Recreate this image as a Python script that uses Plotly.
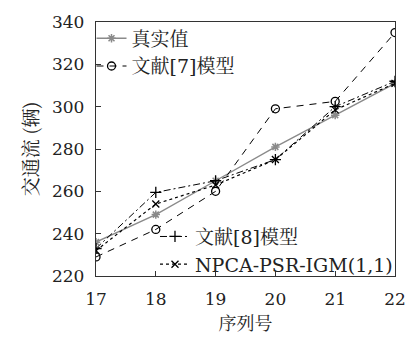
import plotly.graph_objects as go

seq = [17, 18, 19, 20, 21, 22]
actual = [236, 249, 265, 281, 296, 311]
ref7 = [229, 242, 260, 299, 302.5, 335]
ref8 = [233, 259.5, 265, 275, 300, 312]
npca = [232, 254, 263, 275, 298.5, 311]

y_ticks = [220, 240, 260, 280, 300, 320, 340]

serif = "DejaVu Serif"
cjk = "Noto Serif CJK SC, Noto Sans CJK SC"

fig = go.Figure()

fig.add_trace(go.Scatter(
    x=seq, y=actual, name="真实值", mode="lines+markers",
    line=dict(color="#8a8a8a", width=1.4),
    marker=dict(symbol="asterisk-open", size=7, color="#8a8a8a", line=dict(width=1.5, color="#8a8a8a")),
    legend="legend",
))
fig.add_trace(go.Scatter(
    x=seq, y=ref7, name="文献[7]模型", mode="lines+markers",
    line=dict(color="black", width=1, dash="7px,6px"),
    marker=dict(symbol="circle-open", size=8, color="black", line=dict(width=1.3, color="black")),
    legend="legend",
))
fig.add_trace(go.Scatter(
    x=seq, y=ref8, name="文献[8]模型", mode="lines+markers",
    line=dict(color="black", width=1, dash="7px,3px,2px,3px"),
    marker=dict(symbol="cross-thin-open", size=8, color="black", line=dict(width=1.3, color="black")),
    legend="legend2",
))
fig.add_trace(go.Scatter(
    x=seq, y=npca, name="NPCA-PSR-IGM(1,1)", mode="lines+markers",
    line=dict(color="black", width=1.2, dash="dot"),
    marker=dict(symbol="x-thin-open", size=7, color="black", line=dict(width=1.3, color="black")),
    legend="legend2",
))

axis_common = dict(
    showgrid=False, zeroline=False, showline=True, mirror=True,
    linecolor="#333333", linewidth=1.3,
    ticks="inside", ticklen=5, tickwidth=1, tickcolor="#333333",
    tickfont=dict(family=serif, size=17, color="#222222"),
)

fig.update_xaxes(
    range=[17, 22], tickvals=seq, ticklabelstandoff=7,
    title=dict(text="序列号", font=dict(family=cjk, size=18, color="#222222"), standoff=8),
    **axis_common,
)
fig.update_yaxes(
    range=[220, 340], tickvals=y_ticks, ticklabelstandoff=7,
    title=dict(text="交通流 (辆)", font=dict(family=cjk, size=19, color="#222222"), standoff=8),
    **axis_common,
)

legend_common = dict(
    font=dict(family=f"{serif}, {cjk}", size=19, color="#222222"),
    bgcolor="rgba(0,0,0,0)", borderwidth=0,
    itemwidth=30, tracegroupgap=0,
)

fig.update_layout(
    width=418, height=343,
    margin=dict(l=96, r=12, t=18, b=67),
    paper_bgcolor="white", plot_bgcolor="white",
    legend=dict(x=-0.015, y=1.01, xanchor="left", yanchor="top", **legend_common),
    legend2=dict(x=1.01, y=-0.03, xanchor="right", yanchor="bottom", **legend_common),
)

fig.write_html("out.html")
